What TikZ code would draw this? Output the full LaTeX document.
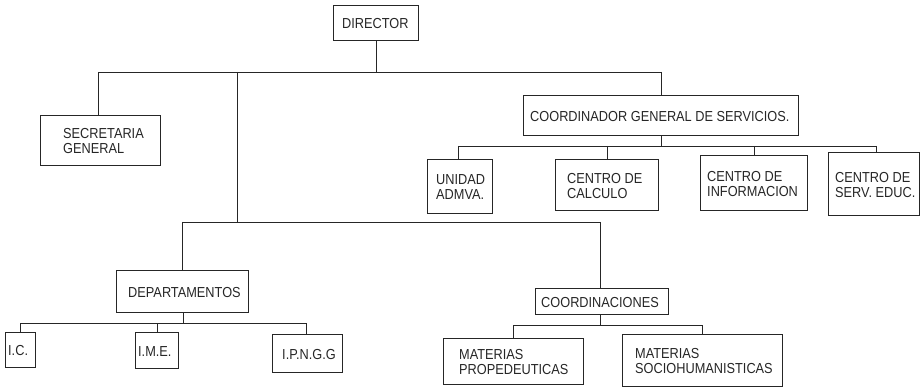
\documentclass[tikz,border=0pt]{standalone}
\usepackage{fontspec}
\setmainfont{Liberation Sans}[FakeStretch=0.88]
\tikzset{
  box/.style={draw=black!85, line width=0.9pt, rectangle, inner sep=0pt},
  lbl/.style={inner sep=0pt, align=left, font=\fontsize{14.5}{15}\selectfont, text=black!85},
  wire/.style={draw=black!85, line width=0.9pt}
}
% name, x1, y1, x2, y2, text-left-x, text
\newcommand\orgbox[7]{%
  \pgfmathsetmacro\bw{#4-#2}\pgfmathsetmacro\bh{#5-#3}%
  \pgfmathsetmacro\bcx{(#2+#4)/2}\pgfmathsetmacro\bcy{(#3+#5)/2+1.5}%
  \node[box, minimum width=\bw pt, minimum height=\bh pt] (#1) at ({(#2+#4)/2},{(#3+#5)/2}) {};
  \node[lbl, anchor=west] (#1-t) at (#6,\bcy) {#7};
}
\begin{document}
\begin{tikzpicture}[x=1pt,y=-1pt]
\useasboundingbox (0,0) rectangle (920,387);
\orgbox{dir}{333}{5}{418}{40}{342}{DIRECTOR}
\orgbox{sec}{40}{115}{160}{165}{63}{SECRETARIA\\GENERAL}
\orgbox{cgs}{523}{95}{798}{135}{530}{COORDINADOR GENERAL DE SERVICIOS.}
\orgbox{uni}{427}{159}{492}{213}{436}{UNIDAD\\ADMVA.}
\orgbox{cal}{555}{159}{658}{210}{567}{CENTRO DE\\CALCULO}
\orgbox{inf}{700}{155}{807}{210}{707}{CENTRO DE\\INFORMACION}
\orgbox{ser}{828}{152}{919}{215}{835}{CENTRO DE\\SERV. EDUC.}
\orgbox{dep}{116}{270}{248}{312}{128}{DEPARTAMENTOS}
\orgbox{ic}{5}{332}{35}{367}{8}{I.C.}
\orgbox{ime}{135}{332}{178}{368}{138}{I.M.E.}
\orgbox{ipn}{272}{334}{342}{372}{282}{I.P.N.G.G}
\orgbox{coo}{535}{288}{668}{314}{541}{COORDINACIONES}
\orgbox{pro}{443}{338}{583}{384}{459}{MATERIAS\\PROPEDEUTICAS}
\orgbox{soc}{622}{334}{782}{386}{635}{MATERIAS\\SOCIOHUMANISTICAS}

% main bar
\coordinate (mb) at (376,72);
\coordinate (mL) at (98,72);
\coordinate (mR) at (661,72);
\coordinate (mJ) at (237,72);
\coordinate (sJ) at (237,222);
\coordinate (sL) at (182,222);
\coordinate (sR) at (600,222);
\draw[wire] (dir.south -| mb) -- (mb);
\draw[wire] (mL) -- (mR);
\draw[wire] (mL) -- (mL |- sec.north);
\draw[wire] (mR) -- (mR |- cgs.north);
\draw[wire] (mJ) -- (sJ);
\draw[wire] (sL) -- (sR);
\draw[wire] (sL) -- (sL |- dep.north);
\draw[wire] (sR) -- (sR |- coo.north);

% servicios
\coordinate (cJ) at (661,146);
\coordinate (cL) at (458,146);
\coordinate (cR) at (876,146);
\coordinate (c2) at (607,146);
\coordinate (c3) at (754,146);
\draw[wire] (cgs.south -| cJ) -- (cJ);
\draw[wire] (cL) -- (cR);
\draw[wire] (cL) -- (cL |- uni.north);
\draw[wire] (c2) -- (c2 |- cal.north);
\draw[wire] (c3) -- (c3 |- inf.north);
\draw[wire] (cR) -- (cR |- ser.north);

% departamentos
\coordinate (dJ) at (183,323);
\coordinate (dL) at (20,323);
\coordinate (dM) at (157,323);
\coordinate (dR) at (306,323);
\draw[wire] (dep.south -| dJ) -- (dJ);
\draw[wire] (dL) -- (dR);
\draw[wire] (dL) -- (dL |- ic.north);
\draw[wire] (dM) -- (dM |- ime.north);
\draw[wire] (dR) -- (dR |- ipn.north);

% coordinaciones
\coordinate (kJ) at (600,325);
\coordinate (kL) at (513,325);
\coordinate (kR) at (702,325);
\draw[wire] (coo.south -| kJ) -- (kJ);
\draw[wire] (kL) -- (kR);
\draw[wire] (kL) -- (kL |- pro.north);
\draw[wire] (kR) -- (kR |- soc.north);
\end{tikzpicture}
\end{document}
